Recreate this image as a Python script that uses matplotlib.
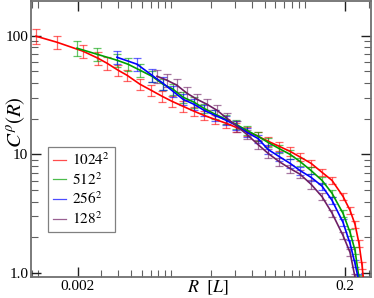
import matplotlib
matplotlib.use('Agg')
import matplotlib.pyplot as plt
from matplotlib.ticker import FixedLocator, FixedFormatter, LogLocator, NullFormatter

plt.rcParams['font.family'] = ['Liberation Serif', 'DejaVu Serif']
plt.rcParams['mathtext.fontset'] = 'stix'

# 1024^2
r_1024 = [0.00097, 0.00139, 0.00218, 0.00282, 0.0033, 0.00399, 0.00466, 0.00582, 0.00705,
          0.00851, 0.0101, 0.01224, 0.01479, 0.01757, 0.02124, 0.02568, 0.03051, 0.03688,
          0.04459, 0.05299, 0.06406, 0.07745, 0.09202, 0.1113, 0.1345, 0.1598, 0.1932,
          0.2181, 0.2376, 0.2546, 0.2682, 0.2776]
c_1024 = [99.0, 88.1, 74.0, 64.6, 58.6, 51.2, 46.4, 39.0, 34.7, 30.9, 28.0, 25.4, 23.1, 21.3,
          19.7, 18.3, 16.9, 15.6, 14.2, 12.9, 11.7, 10.6, 9.5, 8.4, 7.05, 6.03, 4.42, 3.37,
          2.57, 1.77, 1.16, 0.78]
e_1024 = [0.14, 0.13, 0.12, 0.12, 0.12, 0.11, 0.11, 0.11, 0.10, 0.10, 0.10, 0.10, 0.09, 0.09,
          0.09, 0.09, 0.09, 0.08, 0.08, 0.08, 0.08, 0.08, 0.08, 0.07, 0.07, 0.07, 0.07, 0.07,
          0.07, 0.07, 0.07, 0.07]

# 512^2
r_512 = [0.001966, 0.002775, 0.003918, 0.004737, 0.00582, 0.007166, 0.008661, 0.01029,
         0.01224, 0.01479, 0.01757, 0.02124, 0.02568, 0.03051, 0.03688, 0.04459, 0.05299,
         0.06406, 0.07745, 0.09202, 0.1113, 0.1345, 0.1598, 0.1932, 0.2181, 0.2376, 0.2546]
c_512 = [78.4, 69.8, 62.1, 57.5, 51.2, 45.5, 39.0, 35.4, 30.3, 27.5, 24.4, 21.8, 19.7, 17.9,
         15.9, 14.2, 12.6, 11.2, 10.0, 8.7, 7.3, 6.03, 4.7, 3.18, 2.20, 1.55, 0.90]
e_512 = [0.14, 0.13, 0.13, 0.12, 0.12, 0.11, 0.11, 0.10, 0.10, 0.10, 0.09, 0.09, 0.09, 0.09,
         0.08, 0.08, 0.08, 0.08, 0.08, 0.08, 0.07, 0.07, 0.07, 0.07, 0.07, 0.07, 0.07]

# 256^2
r_256 = [0.003918, 0.005533, 0.007166, 0.008661, 0.01029, 0.01224, 0.01479, 0.01757,
         0.02124, 0.02568, 0.03051, 0.03688, 0.04459, 0.05299, 0.06406, 0.07745, 0.09202,
         0.1113, 0.1345, 0.1598, 0.1932, 0.2181, 0.2376, 0.2503]
c_256 = [65.8, 57.5, 46.4, 39.7, 34.0, 29.1, 26.4, 23.5, 21.3, 19.4, 17.6, 15.3, 13.6, 11.0,
         9.6, 8.4, 7.3, 6.4, 5.4, 4.1, 2.67, 1.77, 1.20, 0.92]
e_256 = [0.13, 0.13, 0.12, 0.12, 0.11, 0.11, 0.10, 0.10, 0.10, 0.09, 0.09, 0.09, 0.08, 0.08,
         0.08, 0.08, 0.08, 0.07, 0.07, 0.07, 0.07, 0.07, 0.07, 0.07]

# 128^2
r_128 = [0.007811, 0.009283, 0.01103, 0.01311, 0.01558, 0.01851, 0.02199, 0.02613, 0.03105,
         0.03688, 0.04459, 0.05299, 0.06406, 0.07745, 0.09202, 0.1113, 0.1345, 0.1598,
         0.1932, 0.2181, 0.2376]
c_128 = [45.5, 42.1, 38.2, 32.7, 29.1, 26.4, 23.5, 20.1, 17.2, 14.7, 12.1, 10.2, 8.7, 7.6,
         6.8, 5.6, 4.4, 3.2, 2.07, 1.49, 0.92]
e_128 = [0.13, 0.13, 0.12, 0.12, 0.11, 0.11, 0.10, 0.10, 0.10, 0.09, 0.09, 0.09, 0.08, 0.08,
         0.08, 0.08, 0.07, 0.07, 0.07, 0.07, 0.07]

series = [
    (r'$1024^2$', r_1024, c_1024, e_1024, '#ff0000'),
    (r'$512^2$', r_512, c_512, e_512, '#00a000'),
    (r'$256^2$', r_256, c_256, e_256, '#0000ff'),
    (r'$128^2$', r_128, c_128, e_128, '#6e1e64'),
]

fig = plt.figure(figsize=(3.74, 2.98), dpi=100)
ax = fig.add_axes([31 / 374, 1 - 277 / 298, 340 / 374, 276 / 298])

handles = []
for label, r, c, e, col in series:
    yerr = [ci * ei for ci, ei in zip(c, e)]
    ax.errorbar(r, c, yerr=yerr, fmt='none', ecolor=col, elinewidth=0.9,
                capsize=2.6, capthick=0.9, alpha=0.6, zorder=2)
    line, = ax.plot(r, c, color=col, lw=1.2, zorder=3)
    handles.append((line, label, col))

ax.set_xscale('log')
ax.set_yscale('log')
ax.set_xlim(0.00089, 0.313)
ax.set_ylim(0.925, 196)

ax.xaxis.set_major_locator(FixedLocator([0.002, 0.2]))
ax.xaxis.set_major_formatter(FixedFormatter(['0.002', '0.2']))
ax.xaxis.set_minor_locator(LogLocator(base=10, subs=[1, 2, 3, 4, 5, 6, 7, 8, 9], numticks=20))
ax.xaxis.set_minor_formatter(NullFormatter())
ax.yaxis.set_major_locator(FixedLocator([1, 10, 100]))
ax.yaxis.set_major_formatter(FixedFormatter(['1.0', '10', '100']))
ax.yaxis.set_minor_locator(LogLocator(base=10, subs=[2, 3, 4, 5, 6, 7, 8, 9], numticks=20))
ax.yaxis.set_minor_formatter(NullFormatter())

ax.tick_params(which='both', direction='in', top=True, right=True, labelsize=11,
               pad=2, color='#202020')
ax.tick_params(which='major', length=7.5, width=1.0)
ax.tick_params(which='minor', length=5, width=0.8, color='#606060')
for s in ax.spines.values():
    s.set_color('#707070')
    s.set_linewidth(1.3)

ax.set_xlabel(r'$R\ \ [L]$', fontsize=13)
ax.xaxis.set_label_coords(0.52, -0.005)
ax.set_ylabel(r'$C^{\rho}(R)$', fontsize=15)
ax.yaxis.set_label_coords(-0.012, 0.56)

leg_lines = [plt.Line2D([], [], color=col, lw=0.9, alpha=0.7) for _, _, col in handles]
leg = ax.legend(leg_lines, [lab for _, lab, _ in handles], loc='upper left',
                bbox_to_anchor=(0.05, 0.471), borderaxespad=0, fontsize=11,
                handlelength=0.85, handletextpad=0.45, labelspacing=0.2,
                borderpad=0.3, fancybox=False, framealpha=1)
leg.get_frame().set_edgecolor('#808080')
leg.get_frame().set_linewidth(0.9)

fig.savefig('out.png', dpi=100)
